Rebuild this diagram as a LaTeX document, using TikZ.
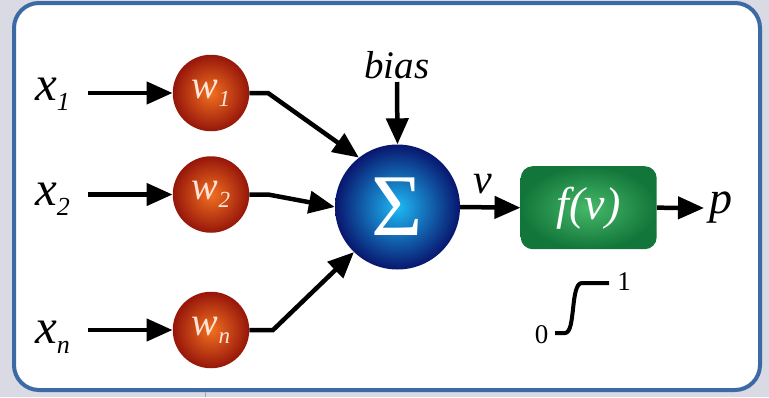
\documentclass[tikz,border=0pt]{standalone}
\usepackage{fontspec}
\setmainfont{LiberationSerif}[Extension=.ttf, UprightFont=*-Regular, ItalicFont=*-Italic, BoldFont=*-Bold, BoldItalicFont=*-BoldItalic]
\usetikzlibrary{arrows.meta}
\definecolor{framec}{RGB}{59,106,165}
\definecolor{bgc}{RGB}{218,218,228}
\definecolor{wouter}{RGB}{150,22,10}
\definecolor{winner}{RGB}{242,112,32}
\definecolor{souter}{RGB}{8,22,110}
\definecolor{sinner}{RGB}{30,185,245}
\definecolor{gouter}{RGB}{18,118,58}
\definecolor{ginner}{RGB}{70,185,105}
\definecolor{wtext}{RGB}{255,228,215}
\newcommand\xlab[1]{\itshape\fontsize{49}{49}\selectfont x\raisebox{-10pt}{\fontsize{26}{26}\selectfont #1}}
\newcommand\wlab[1]{\itshape\fontsize{40}{40}\selectfont w\raisebox{-8pt}{\fontsize{23}{23}\selectfont #1}}
\begin{document}
\begin{tikzpicture}[x=1pt,y=-1pt,
  conn/.style={line width=4.5pt, -{Triangle[length=26pt,width=22pt]}},
  plainline/.style={line width=4pt},
  wball/.style={circle, minimum size=76.5pt, inner sep=0pt, shading=radial, inner color=winner, outer color=wouter, text=wtext},
  sball/.style={circle, minimum size=125pt, inner sep=0pt, shading=radial, inner color=sinner, outer color=souter, text=white},
  fbox/.style={rectangle, rounded corners=12pt, minimum width=136pt, minimum height=83pt, inner sep=0pt, shading=radial, inner color=ginner, outer color=gouter, text=white},
  lab/.style={inner sep=0pt}]
\useasboundingbox (0,0) rectangle (769,397);
\fill[bgc] (0,0) rectangle (769,397);
\draw[framec, line width=4pt, fill=white, rounded corners=25pt] (14,3) rectangle (760,390);
\draw[gray!70, line width=1pt] (205,392) -- (205,397);

% inputs
\node[lab, anchor=base west] (x1) at (35,100) {\xlab{1}};
\node[lab, anchor=base west] (x2) at (35,205) {\xlab{2}};
\node[lab, anchor=base west] (xn) at (35,343) {\xlab{n}};
\coordinate (a1) at (88,93);
\coordinate (a2) at (88,194.5);
\coordinate (an) at (88,330);

% weights
\node[wball] (w1) at (211,93) {\wlab{1}};
\node[wball] (w2) at (211,194.5) {\wlab{2}};
\node[wball] (wn) at (211,330) {\wlab{n}};

% sum
\node[sball] (sig) at (397.5,207) {\fontsize{88}{88}\selectfont Σ};

\draw[conn] (a1) -- (w1.west);
\draw[conn] (a2) -- (w2.west);
\draw[conn] (an) -- (wn.west);

\coordinate (b1) at (268,93);
\coordinate (b2) at (268,194.5);
\coordinate (bn) at (273,330);
\draw[conn] (w1.east) -- (b1) -- (sig.128);
\draw[conn] (w2.east) -- (b2) -- (sig.180);
\draw[conn] (wn.east) -- (bn) -- (sig.226);

% bias
\node[lab] (bias) at (397,65) {\itshape\fontsize{39}{39}\selectfont bias};
\coordinate (bs) at (397,82);
\draw[conn] (bs) -- (sig.north);

% activation
\node[fbox] (fv) at (588.7,207.7) {\itshape\fontsize{46}{46}\selectfont f(v)};
\node[lab] (v) at (483,184) {\itshape\fontsize{42}{42}\selectfont v};
\draw[conn] (sig.east) -- (fv.west);
\node[lab] (p) at (721,207.5) {\itshape\fontsize{46}{46}\selectfont p};
\coordinate (pe) at (704,208);
\draw[conn] (fv.east) -- (pe);

% sigmoid
\node[lab] (zero) at (541.5,334.5) {\fontsize{27}{27}\selectfont 0};
\node[lab] (one) at (624,281.5) {\fontsize{27}{27}\selectfont 1};
\draw[plainline] (555,333) -- (565,333) .. controls (576,333) and (570,283) .. (582,283) -- (609,283);
\end{tikzpicture}
\end{document}
